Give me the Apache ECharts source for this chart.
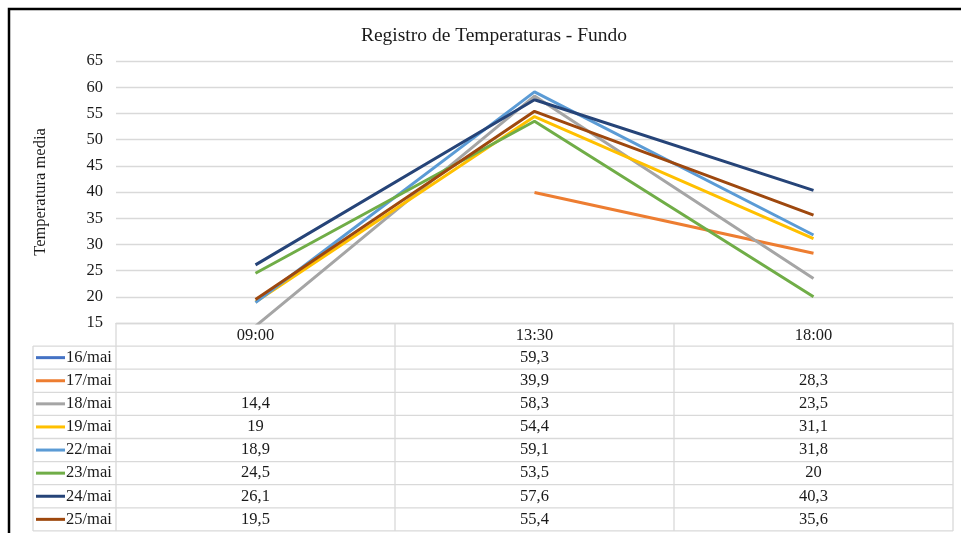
<!DOCTYPE html>
<html><head><meta charset="utf-8">
<script src="https://cdn.jsdelivr.net/npm/echarts@6/dist/echarts.min.js"></script>
<style>html,body{margin:0;padding:0;background:#fff}#c{width:961px;height:533px}</style>
</head><body><div id="c"></div>
<script>
var categories = ['09:00', '13:30', '18:00'];
var seriesNames = ['16/mai', '17/mai', '18/mai', '19/mai', '22/mai', '23/mai', '24/mai', '25/mai'];
var s16 = [null, 59.3, null];
var s17 = [null, 39.9, 28.3];
var s18 = [14.4, 58.3, 23.5];
var s19 = [19, 54.4, 31.1];
var s22 = [18.9, 59.1, 31.8];
var s23 = [24.5, 53.5, 20];
var s24 = [26.1, 57.6, 40.3];
var s25 = [19.5, 55.4, 35.6];
var yTicks = [15, 20, 25, 30, 35, 40, 45, 50, 55, 60, 65];
var titleText = 'Registro de Temperaturas - Fundo';
var yTitle = 'Temperatura media';

var allValues = [s16, s17, s18, s19, s22, s23, s24, s25];
var colors = ['#4472C4', '#ED7D31', '#A5A5A5', '#FFC000', '#5B9BD5', '#70AD47', '#264478', '#9E480E'];
var FONT = '"Liberation Serif", "Times New Roman", serif';
var TXT = '#1a1a1a';
var GRIDC = '#d9d9d9';
var FS = 16.5;

var chart = echarts.init(document.getElementById('c'));

// layout
var plotL = 116, plotR = 953, plotT = 61, plotB = 323;
var tableL = 33, rowH = 23.1;
var colW = (plotR - plotL) / categories.length;

function fmt(v) { return v == null ? '' : String(v).replace('.', ','); }

var graphics = [];
graphics.push({ type: 'polyline', shape: { points: [[9, 540], [9, 9], [970, 9]] }, style: { stroke: '#000', lineWidth: 2.5, fill: null }, silent: true });
var tableB = plotB + rowH * (seriesNames.length + 1);
for (var i = 0; i <= categories.length; i++) {
  var x = plotL + colW * i;
  graphics.push({ type: 'line', shape: { x1: x, y1: plotB, x2: x, y2: tableB }, style: { stroke: GRIDC, lineWidth: 1.3 }, silent: true });
}
graphics.push({ type: 'line', shape: { x1: tableL, y1: plotB + rowH, x2: tableL, y2: tableB }, style: { stroke: GRIDC, lineWidth: 1.3 }, silent: true });
for (var r = 1; r <= seriesNames.length + 1; r++) {
  var y = plotB + rowH * r;
  graphics.push({ type: 'line', shape: { x1: tableL, y1: y, x2: plotR, y2: y }, style: { stroke: GRIDC, lineWidth: 1.3 }, silent: true });
}
seriesNames.forEach(function (name, s) {
  var cy = plotB + rowH * (s + 1) + rowH / 2;
  graphics.push({ type: 'line', shape: { x1: 36, y1: cy, x2: 65, y2: cy }, style: { stroke: colors[s], lineWidth: 3 }, silent: true });
  graphics.push({ type: 'text', x: 66, y: cy, style: { text: name, font: FS + 'px ' + FONT, fill: TXT, verticalAlign: 'middle', align: 'left' }, silent: true });
  allValues[s].forEach(function (v, c) {
    graphics.push({ type: 'text', x: plotL + colW * c + colW / 2, y: cy, style: { text: fmt(v), font: FS + 'px ' + FONT, fill: TXT, verticalAlign: 'middle', align: 'center' }, silent: true });
  });
});

var series = seriesNames.map(function (name, s) {
  return {
    name: name, type: 'line', data: allValues[s], showSymbol: false, symbol: 'none',
    lineStyle: { color: colors[s], width: 3 }, itemStyle: { color: colors[s] },
    connectNulls: false, clip: true, animation: false
  };
});

chart.setOption({
  animation: false,
  backgroundColor: '#fff',
  title: { text: titleText, left: 489, top: 21, textAlign: 'center', textStyle: { fontFamily: FONT, fontSize: 19.5, fontWeight: 'normal', color: TXT } },
  grid: { left: plotL, right: 961 - plotR, top: plotT, bottom: 533 - plotB, containLabel: false },
  xAxis: {
    type: 'category', data: categories, boundaryGap: true,
    axisLine: { show: true, lineStyle: { color: GRIDC, width: 1.3 } },
    axisTick: { show: false },
    axisLabel: { fontFamily: FONT, fontSize: FS, color: TXT, margin: 4 }
  },
  yAxis: {
    type: 'value', min: yTicks[0], max: yTicks[yTicks.length - 1], interval: yTicks[1] - yTicks[0],
    name: yTitle, nameLocation: 'middle', nameGap: 67, nameRotate: 90,
    nameTextStyle: { fontFamily: FONT, fontSize: FS, color: TXT },
    axisLine: { show: false }, axisTick: { show: false },
    axisLabel: { fontFamily: FONT, fontSize: FS, color: TXT, margin: 13 },
    splitLine: { lineStyle: { color: GRIDC, width: 1.3 } }
  },
  series: series,
  graphic: graphics
});
</script></body></html>
